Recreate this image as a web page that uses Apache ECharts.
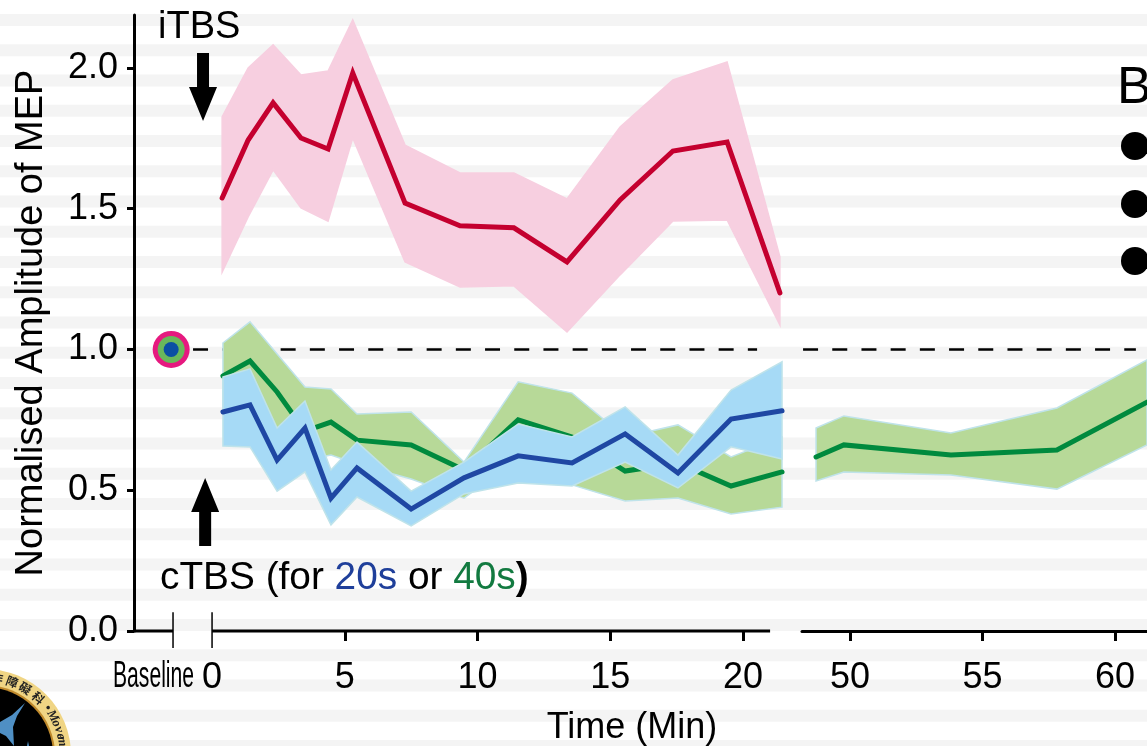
<!DOCTYPE html>
<html>
<head>
<meta charset="utf-8">
<title>Normalised Amplitude of MEP</title>
<script src="https://cdn.jsdelivr.net/npm/echarts@6/dist/echarts.min.js"></script>
<style>
    html, body { margin: 0; padding: 0; background: #fff; overflow: hidden; }
    #chart { width: 1147px; height: 746px; }
</style>
</head>
<body>
<div id="chart"></div>
<script>
// values
var yTicks = [0, 0.5, 1, 1.5, 2];
var xTicksEarly = [5, 10, 15, 20];
var xLabelsEarly = [0, 5, 10, 15, 20];
var xTicksLate = [50, 55, 60];
var xBreakTicks = [-1.47, 0];

var timeItbs = [0.38, 1.36, 2.3, 3.35, 4.37, 5.3, 7.27, 9.34, 11.37, 13.37, 15.37, 17.36, 19.4, 21.39];
var itbsMean = [1.538, 1.744, 1.876, 1.751, 1.712, 1.982, 1.520, 1.439, 1.432, 1.311, 1.531, 1.705, 1.737, 1.201];
var itbsUpper = [1.826, 2.0, 2.082, 1.975, 1.989, 2.171, 1.726, 1.627, 1.627, 1.535, 1.790, 1.957, 2.021, 1.329];
var itbsLower = [1.275, 1.471, 1.638, 1.503, 1.456, 1.751, 1.311, 1.222, 1.226, 1.062, 1.265, 1.456, 1.460, 1.087];

var timeCtbs = [0.41, 1.43, 2.45, 3.5, 4.48, 5.46, 7.5, 9.49, 11.53, 13.56, 15.56, 17.55, 19.55, 21.47];
var ctbs40Mean = [0.906, 0.959, 0.849, 0.710, 0.742, 0.678, 0.661, 0.572, 0.750, 0.689, 0.568, 0.597, 0.515, 0.565];
var ctbs40Upper = [1.023, 1.098, 0.984, 0.867, 0.860, 0.771, 0.778, 0.600, 0.885, 0.845, 0.689, 0.732, 0.618, 0.689];
var ctbs40Lower = [0.789, 0.821, 0.721, 0.607, 0.625, 0.593, 0.540, 0.472, 0.615, 0.519, 0.462, 0.472, 0.416, 0.440];
var ctbs20Mean = [0.778, 0.803, 0.607, 0.721, 0.472, 0.579, 0.433, 0.544, 0.622, 0.597, 0.700, 0.561, 0.753, 0.782];
var ctbs20Upper = [0.902, 0.931, 0.721, 0.817, 0.572, 0.671, 0.497, 0.600, 0.735, 0.689, 0.796, 0.625, 0.856, 0.956];
var ctbs20Lower = [0.657, 0.654, 0.497, 0.565, 0.377, 0.476, 0.373, 0.487, 0.526, 0.515, 0.600, 0.508, 0.654, 0.611];

var timeLate = [48.72, 49.77, 53.81, 57.81, 61.21];
var lateMean = [0.618, 0.661, 0.625, 0.643, 0.813];
var lateUpper = [0.721, 0.764, 0.703, 0.792, 0.963];
var lateLower = [0.533, 0.565, 0.554, 0.504, 0.661];

var baselineX = -1.54;
var baselineValue = 1;

var FONT = '"Liberation Sans", Arial, sans-serif';
var RED = '#c4002f', GREEN = '#008a3e', BLUE = '#1f47a3';

// polygon between upper and lower, through the axes of the given grid
var band = (axisIndex, xs, upper, lower, fill, stroke) => ({
    type: 'custom',
    xAxisIndex: axisIndex,
    yAxisIndex: axisIndex,
    silent: true,
    clip: false,
    data: [[xs[0], upper[0]]],
    renderItem: (params, api) => {
        var points = [];
        xs.forEach((x, i) => points.push(api.coord([x, upper[i]])));
        for (var i = xs.length - 1; i >= 0; i--)
            points.push(api.coord([xs[i], lower[i]]));
        return {
            type: 'polygon',
            shape: { points },
            style: { fill, stroke, lineWidth: 1.5 }
        };
    }
});

var line = (axisIndex, xs, ys, color) => ({
    type: 'line',
    xAxisIndex: axisIndex,
    yAxisIndex: axisIndex,
    clip: false,
    silent: true,
    symbol: 'none',
    data: xs.map((x, i) => [x, ys[i]]),
    lineStyle: { color, width: 5, cap: 'round', join: 'miter' }
});

var rule = (axisIndex, data, width, type) => ({
    type: 'line',
    xAxisIndex: axisIndex,
    yAxisIndex: axisIndex,
    clip: false,
    silent: true,
    symbol: 'none',
    data,
    lineStyle: { color: '#000', width, type: type || 'solid', cap: 'butt' }
});

var dot = (size, color) => ({
    type: 'scatter',
    silent: true,
    data: [[baselineX, baselineValue]],
    symbol: 'circle',
    symbolSize: size,
    itemStyle: { color, opacity: 1 }
});

var arrow = (path, x, y) => ({
    type: 'scatter',
    silent: true,
    clip: false,
    data: [[x, y]],
    symbol: path,
    symbolSize: [28, 68],
    itemStyle: { color: '#000', opacity: 1 }
});

// pale stripes behind the whole page
var background = [];
for (var s = 0; s < 25; s++)
    background.push({
        type: 'rect',
        silent: true,
        shape: { x: 0, y: 14 + s * 30.25, width: 1147, height: 12 },
        style: { fill: '#f4f4f4' }
    });

// badge in the bottom left corner
var logoX = -15, logoY = 755;
var logoChars = ['作', '障', '礙', '科', '•', 'M', 'o', 'v', 'e', 'm'];
var logoAngles = [9, 20.5, 31, 43, 53, 60, 66, 71, 76, 80];
var logo = [
    { type: 'circle', silent: true, shape: { cx: logoX, cy: logoY, r: 86 }, style: { fill: '#f0d584' } },
    { type: 'circle', silent: true, shape: { cx: logoX, cy: logoY, r: 70 }, style: { fill: '#c08a2c' } },
    { type: 'circle', silent: true, shape: { cx: logoX, cy: logoY, r: 68 }, style: { fill: '#000' } },
    {
        type: 'polygon', silent: true,
        shape: { points: [[25, 703], [17, 716], [13, 727], [14, 746], [6, 736], [0, 733], [0, 722], [12, 715]] },
        style: { fill: '#4f8fc4' }
    },
    {
        type: 'polygon', silent: true,
        shape: { points: [[28, 741], [29, 746], [27, 746]] },
        style: { fill: '#4f8fc4' }
    }
];
logoChars.forEach((c, i) => {
    var a = logoAngles[i] * Math.PI / 180;
    logo.push({
        type: 'text',
        silent: true,
        x: logoX + 78 * Math.sin(a),
        y: logoY - 78 * Math.cos(a),
        rotation: -a,
        style: {
            text: c,
            fill: '#222',
            font: i < 4 ? 'bold 12px "Noto Sans CJK TC"' : 'italic bold 13px "Liberation Serif"',
            align: 'center',
            verticalAlign: 'middle'
        }
    });
});

var texts = [
    {
        type: 'text', silent: true, x: 158, y: 47,
        style: { text: 'iTBS', fill: '#000', font: '38px ' + FONT, align: 'left', verticalAlign: 'bottom' }
    },
    {
        type: 'text', silent: true, x: 160, y: 598,
        style: {
            text: '{k|cTBS (for }{b|20s}{k| or }{g|40s}{p|)}',
            align: 'left',
            verticalAlign: 'bottom',
            font: '38.8px ' + FONT,
            rich: {
                k: { fill: '#000', font: '38.8px ' + FONT },
                b: { fill: '#1f3f9a', font: '38.8px ' + FONT },
                g: { fill: '#127a40', font: '38.8px ' + FONT },
                p: { fill: '#000', font: 'bold 38.8px ' + FONT }
            }
        }
    },
    {
        type: 'text', silent: true, x: 113, y: 677, scaleX: 0.587,
        style: { text: 'Baseline', fill: '#000', font: '36px ' + FONT, align: 'left', verticalAlign: 'middle' }
    },
    {
        type: 'text', silent: true, x: 632, y: 728,
        style: { text: 'Time (Min)', fill: '#000', font: '36px ' + FONT, align: 'center', verticalAlign: 'middle' }
    },
    {
        type: 'text', silent: true, x: 1117, y: 115,
        style: { text: 'B', fill: '#000', font: '52px ' + FONT, align: 'left', verticalAlign: 'bottom' }
    },
    { type: 'circle', silent: true, shape: { cx: 1135, cy: 146, r: 14 }, style: { fill: '#000' } },
    { type: 'circle', silent: true, shape: { cx: 1135, cy: 204, r: 14 }, style: { fill: '#000' } },
    { type: 'circle', silent: true, shape: { cx: 1135, cy: 261, r: 14 }, style: { fill: '#000' } }
];

var tickLabel = { color: '#000', fontFamily: FONT, fontSize: 36 };

var series = [
    rule(0, [[-0.716, 1], [20.53, 1]], 2.6, [15, 14.2]),
    rule(1, [[48.23, 1], [60.79, 1]], 2.6, [15, 14.2]),
    band(0, timeItbs, itbsUpper, itbsLower, '#f7cfe0', '#f7cfe0'),
    line(0, timeItbs, itbsMean, RED),
    band(0, timeCtbs, ctbs40Upper, ctbs40Lower, '#b7d998', '#bfe3ea'),
    line(0, timeCtbs, ctbs40Mean, GREEN),
    band(0, timeCtbs, ctbs20Upper, ctbs20Lower, '#a6daf6', '#bfe3ea'),
    line(0, timeCtbs, ctbs20Mean, BLUE),
    band(1, timeLate, lateUpper, lateLower, '#b7d998', '#bfe3ea'),
    line(1, timeLate, lateMean, GREEN),
    dot(37, '#e6197f'),
    dot(27, '#6ab85b'),
    dot(15, '#0b4fa3'),
    arrow('path://M8,0 H20 V34 H28 L14,68 L0,34 H8 Z', -0.34, 1.932),
    arrow('path://M14,0 L28,34 H20 V68 H8 V34 H0 Z', -0.26, 0.423),
    // broken x axis and the two tall ticks
    rule(0, [[-2.94, 0], [xBreakTicks[0], 0]], 3),
    rule(0, [[xBreakTicks[1], 0], [21.02, 0]], 3),
    rule(0, [[xBreakTicks[0], 0.067], [xBreakTicks[0], -0.06]], 1.5),
    rule(0, [[xBreakTicks[1], 0.067], [xBreakTicks[1], -0.06]], 1.5)
];
// line series default to a higher z than custom ones, keep the drawing order
series.forEach((item, i) => { item.z = i + 2; });

var option = {
    animation: false,
    backgroundColor: '#fff',
    graphic: { elements: background.concat(logo, texts) },
    grid: [
        { left: 134, top: 15, width: 650, height: 616, outerBoundsMode: 'none' },
        { left: 802, top: 15, width: 345, height: 616, outerBoundsMode: 'none' }
    ],
    xAxis: [
        {
            type: 'value', gridIndex: 0, min: -2.94, max: 21.544,
            splitLine: { show: false },
            axisLine: { show: false },
            axisTick: { show: true, customValues: xTicksEarly, length: 10, lineStyle: { color: '#000', width: 3 } },
            axisLabel: Object.assign({ customValues: xLabelsEarly, margin: 29, formatter: v => String(v) }, tickLabel)
        },
        {
            type: 'value', gridIndex: 1, min: 48.19, max: 61.21,
            splitLine: { show: false },
            axisLine: { show: true, onZero: false, lineStyle: { color: '#000', width: 3 } },
            axisTick: { show: true, customValues: xTicksLate, length: 10, lineStyle: { color: '#000', width: 3 } },
            axisLabel: Object.assign({ customValues: xTicksLate, margin: 29, formatter: v => String(v) }, tickLabel)
        }
    ],
    yAxis: [
        {
            type: 'value', gridIndex: 0, min: 0, max: 2.188,
            name: 'Normalised Amplitude of MEP',
            nameLocation: 'middle',
            nameGap: 83,
            nameRotate: 90,
            nameTextStyle: { color: '#000', fontFamily: FONT, fontSize: 38 },
            splitLine: { show: false },
            axisLine: { show: true, onZero: false, lineStyle: { color: '#000', width: 3 } },
            axisTick: { show: true, customValues: yTicks, length: 7, lineStyle: { color: '#000', width: 3 } },
            axisLabel: Object.assign({ customValues: yTicks, margin: 16, formatter: v => v.toFixed(1) }, tickLabel)
        },
        {
            type: 'value', gridIndex: 1, min: 0, max: 2.188,
            show: false
        }
    ],
    series
};

var myChart = echarts.init(document.getElementById('chart'));
myChart.setOption(option);

window.addEventListener('resize', function () {
    myChart.resize();
});
</script>
</body>
</html>
